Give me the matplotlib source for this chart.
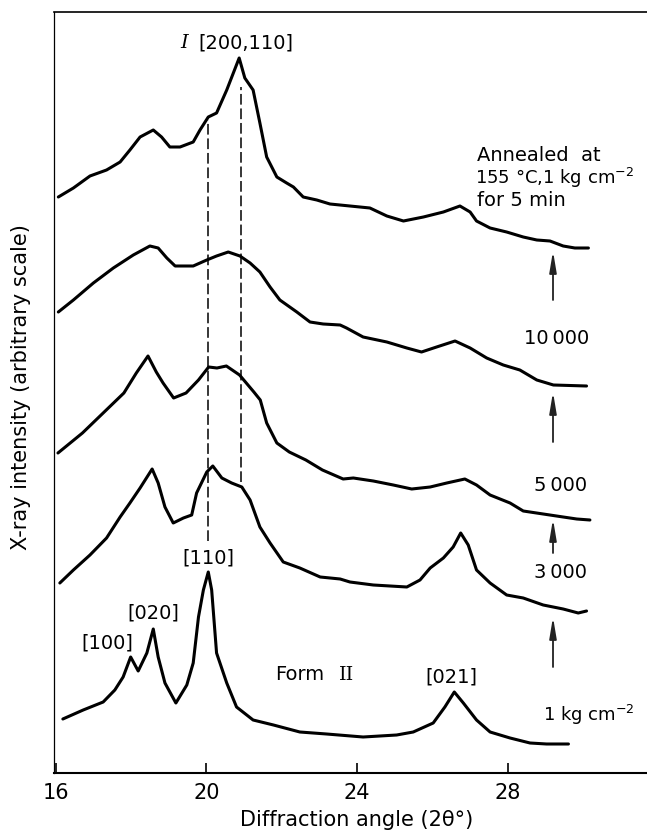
import matplotlib
matplotlib.use("Agg")
import matplotlib.pyplot as plt

# Diffraction angle (2-theta, degrees) and intensity (arbitrary units, curves
# already stacked), top curve first.
angle_annealed = [16.07, 16.47, 16.91, 17.35, 17.71, 17.97, 18.24, 18.59, 18.81, 19.03,
                  19.30, 19.65, 19.83, 20.05, 20.27, 20.54, 20.87, 21.02, 21.24, 21.42,
                  21.60, 21.87, 22.13, 22.31, 22.57, 22.93, 23.28, 23.81, 24.34, 24.79,
                  25.23, 25.76, 26.29, 26.73, 27.00, 27.17, 27.53, 27.97, 28.41, 28.77,
                  29.12, 29.47, 29.78, 30.14]
int_annealed = [576, 585, 597, 603, 611, 623, 636, 643, 636, 626,
                626, 631, 643, 656, 660, 683, 715, 695, 683, 650,
                616, 596, 590, 586, 576, 573, 569, 567, 565, 557,
                552, 556, 561, 567, 561, 552, 545, 541, 536, 533,
                532, 527, 525, 525]

angle_10000 = [16.07, 16.47, 17.00, 17.53, 18.06, 18.50, 18.72, 18.95, 19.17, 19.65,
               20.01, 20.27, 20.58, 20.89, 21.16, 21.42, 21.69, 21.95, 22.40, 22.75,
               23.10, 23.55, 23.72, 24.16, 24.79, 25.32, 25.71, 26.11, 26.60, 27.00,
               27.44, 27.88, 28.32, 28.77, 29.21, 30.09]
int_10000 = [461, 473, 490, 505, 518, 527, 525, 515, 507, 507,
             513, 517, 521, 517, 510, 501, 486, 473, 461, 451,
             449, 448, 445, 436, 431, 425, 421, 426, 432, 425,
             415, 408, 403, 393, 388, 387]

angle_5000 = [16.06, 16.71, 17.26, 17.81, 18.14, 18.45, 18.67, 18.85, 19.13, 19.46,
              19.79, 20.06, 20.28, 20.53, 20.88, 21.26, 21.43, 21.60, 21.87, 22.20,
              22.64, 23.08, 23.63, 23.90, 24.43, 24.96, 25.45, 25.94, 26.38, 26.86,
              27.17, 27.53, 28.06, 28.41, 28.94, 29.47, 29.83, 30.18]
int_5000 = [320, 340, 360, 380, 400, 417, 401, 390, 375, 380,
            393, 406, 405, 407, 398, 381, 373, 350, 330, 321,
            313, 303, 294, 295, 292, 288, 284, 286, 290, 294,
            288, 278, 270, 262, 259, 256, 254, 253]

angle_3000 = [16.11, 16.47, 16.91, 17.35, 17.71, 17.97, 18.24, 18.56, 18.72, 18.90,
              19.12, 19.39, 19.61, 19.74, 20.01, 20.17, 20.41, 20.67, 20.94, 21.16,
              21.42, 21.69, 22.04, 22.48, 23.02, 23.55, 23.81, 24.43, 25.32, 25.67,
              25.94, 26.29, 26.55, 26.75, 26.95, 27.17, 27.53, 27.97, 28.41, 28.94,
              29.47, 29.87, 30.09]
int_3000 = [190, 203, 218, 235, 256, 270, 285, 304, 290, 266,
            250, 255, 258, 280, 301, 307, 295, 290, 286, 273,
            246, 230, 211, 205, 196, 194, 191, 188, 186, 193,
            205, 215, 226, 240, 228, 203, 190, 178, 175, 168,
            164, 160, 162]

angle_1kg = [16.19, 16.73, 17.26, 17.57, 17.79, 17.99, 18.19, 18.42, 18.59, 18.72,
             18.90, 19.19, 19.48, 19.65, 19.79, 19.92, 20.05, 20.14, 20.27, 20.54,
             20.80, 21.24, 21.78, 22.48, 23.19, 24.16, 25.05, 25.49, 26.02, 26.33,
             26.58, 26.82, 27.17, 27.53, 28.06, 28.59, 29.03, 29.61]
int_1kg = [54, 63, 71, 83, 96, 116, 102, 120, 144, 116,
           90, 70, 88, 110, 156, 183, 201, 183, 120, 90,
           66, 53, 48, 41, 39, 36, 38, 41, 50, 66,
           81, 70, 53, 41, 35, 30, 29, 29]

# dashed guide lines through the form I reflections
guide_angles = [20.04, 20.91]
guide_top = [653, 686]
guide_bottom = [232, 291]

# arrows pointing from each pressure label up to the curve above
arrow_angle = 29.2
arrow_tail = [473, 331, 220, 106]
arrow_tip = [522, 381, 254, 156]

x_ticks = [16, 20, 24, 28]

FS = 14

fig = plt.figure(figsize=(6.47, 8.31), dpi=100)
ax = fig.add_axes([54 / 647, 58 / 831, 1 - 54 / 647, 761.5 / 831])

curves = [(angle_annealed, int_annealed), (angle_10000, int_10000),
          (angle_5000, int_5000), (angle_3000, int_3000), (angle_1kg, int_1kg)]
for xs, ys in curves:
    ax.plot(xs, ys, color="black", lw=2.2, solid_joinstyle="round",
            solid_capstyle="round")

for gx, gt, gb in zip(guide_angles, guide_top, guide_bottom):
    ax.plot([gx, gx], [gb, gt], color="black", lw=1.1, linestyle=(0, (7, 2.5)))

for tail, tip in zip(arrow_tail, arrow_tip):
    ax.annotate("", xy=(arrow_angle, tip), xytext=(arrow_angle, tail),
                arrowprops=dict(arrowstyle="-|>,head_length=0.9,head_width=0.15",
                                color="#222222", lw=1.3, mutation_scale=14,
                                shrinkA=0, shrinkB=0))

# peak labels
ax.text(19.41, 730, "I", fontsize=FS, family="DejaVu Serif", style="italic",
        ha="center", va="center")
ax.text(21.04, 730, "[200,110]", fontsize=FS, ha="center", va="center")
ax.text(17.38, 130, "[100]", fontsize=FS, ha="center", va="center")
ax.text(18.60, 160, "[020]", fontsize=FS, ha="center", va="center")
ax.text(20.06, 215, "[110]", fontsize=FS, ha="center", va="center")
ax.text(26.51, 96, "[021]", fontsize=FS, ha="center", va="center")
ax.text(22.48, 98, "Form", fontsize=FS, ha="center", va="center")
ax.text(23.71, 98, "II", fontsize=FS, family="DejaVu Serif", ha="center",
        va="center")

# condition labels
ax.text(27.17, 618, "Annealed  at", fontsize=FS, ha="left", va="center")
ax.text(27.14, 595, "155 °C,1 kg cm$^{-2}$", fontsize=13, ha="left", va="center")
ax.text(27.17, 573, "for 5 min", fontsize=FS, ha="left", va="center")
ax.text(29.30, 435, "10\u2009000", fontsize=FS, ha="center", va="center")
ax.text(29.41, 288, "5\u2009000", fontsize=FS, ha="center", va="center")
ax.text(29.39, 200, "3\u2009000", fontsize=FS, ha="center", va="center")
ax.text(28.93, 58, "1 kg cm$^{-2}$", fontsize=13, ha="left", va="center")

ax.set_xlim(15.955, 31.695)
ax.set_ylim(0, 761.5)
ax.set_xticks(x_ticks)
ax.set_xticklabels([str(t) for t in x_ticks])
ax.set_yticks([])
ax.tick_params(axis="x", direction="in", length=7, width=1.2, pad=7,
               labelsize=15)
ax.spines["right"].set_visible(False)
ax.spines["left"].set_linewidth(0.9)
ax.spines["top"].set_linewidth(1.2)
ax.spines["bottom"].set_linewidth(1.5)

ax.set_xlabel("Diffraction angle (2θ°)", fontsize=15)
ax.xaxis.set_label_coords((357 - 54) / 593, -0.048)
ax.set_ylabel("X-ray intensity (arbitrary scale)", fontsize=15)
ax.yaxis.set_label_coords(-0.039, 0.507)

fig.savefig("out.png", dpi=100)
